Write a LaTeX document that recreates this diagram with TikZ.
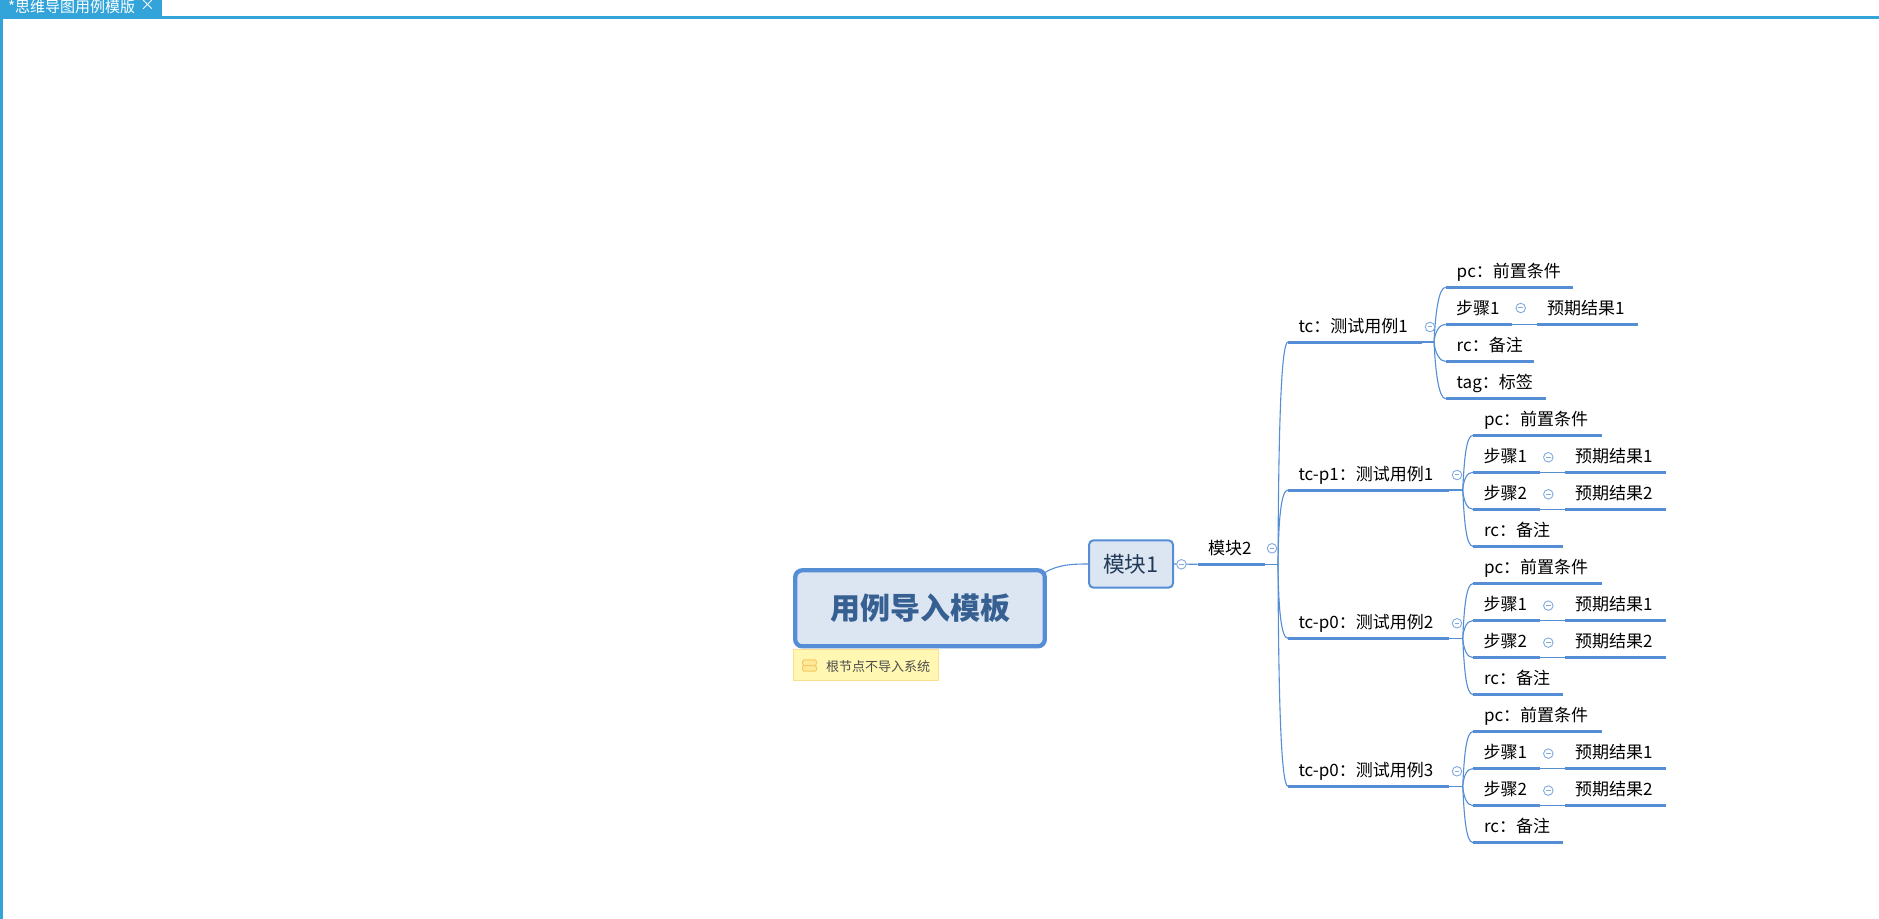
\documentclass[tikz,border=0pt]{standalone}
\usepackage{fontspec}
\setmainfont{Noto Sans CJK SC}
\definecolor{mline}{HTML}{558ED5}
\definecolor{mfill}{HTML}{DCE6F2}
\definecolor{mroot}{HTML}{376092}
\definecolor{mtab}{HTML}{32A4DA}
\definecolor{mnote}{HTML}{FFF7B2}
\definecolor{mnoteb}{HTML}{FBDF8C}
\definecolor{micon}{HTML}{F9C95F}
\newcommand{\topictext}[3]{\makebox[#1bp][l]{\hspace{#2bp}#3}}
\tikzset{
  x=1bp,y=-1bp,
  conn/.style={draw=mline,line width=1.1bp},
  uline/.style={draw=mline,line width=3bp},
  topic/.style={inner sep=0,outer sep=0,minimum height=30bp,text height=13bp,text depth=3bp,
    anchor=south west,font=\fontsize{17bp}{20bp}\selectfont,text=black,
    append after command={(\tikzlastnode.south west) edge[uline] (\tikzlastnode.south east)}},
  collapse/.style={circle,draw=mline!75,fill=white,line width=0.9bp,inner sep=0,outer sep=0,
    minimum size=9.5bp,font=\fontsize{4bp}{4bp}\selectfont},
  rootbox/.style={draw=mline,fill=mfill,line width=4.3bp,rounded corners=7bp,inner sep=0,outer sep=0,
    minimum width=249.6bp,minimum height=76bp,text=mroot,font=\fontsize{30bp}{34bp}\selectfont\bfseries},
  mainbox/.style={draw=mline,fill=mfill,line width=2bp,rounded corners=4.5bp,inner sep=0,outer sep=0,
    minimum width=84bp,minimum height=47.4bp,text=mroot!60!black,font=\fontsize{21.7bp}{25bp}\selectfont},
  notebox/.style={draw=mnoteb,fill=mnote,line width=1bp,inner sep=0,outer sep=0,anchor=north west,
    minimum width=144.5bp,minimum height=31bp},
  notetext/.style={inner sep=0,outer sep=0,anchor=west,text=black!70,font=\fontsize{13bp}{15bp}\selectfont},
  tabtext/.style={inner sep=0,outer sep=0,anchor=west,text=white,font=\fontsize{15bp}{16bp}\selectfont},
}
\newcommand{\minusmark}{\textcolor{mline!75}{\rule[0.3bp]{4.5bp}{0.8bp}}}
% one test case whose collapse markers and children share the tc-p layout
\newcommand{\casegroup}[3]{%
  \node[topic] (#1) at (1288,#2) {\topictext{161.3}{10.5}{#3}};
  \coordinate (#1j) at (1462.7,#2);
  \node[topic] (#1pc) at (1473,{#2-54.7}) {\topictext{128.7}{11}{pc：前置条件}};
  \node[topic] (#1sa) at (1473,{#2-17.7}) {\topictext{67}{10.5}{步骤1}};
  \node[topic] (#1ra) at (1565,{#2-17.7}) {\topictext{100.7}{10}{预期结果1}};
  \node[topic] (#1sb) at (1473,{#2+19.3}) {\topictext{67}{10.5}{步骤2}};
  \node[topic] (#1rb) at (1565,{#2+19.3}) {\topictext{100.7}{10}{预期结果2}};
  \node[topic] (#1rc) at (1473,{#2+56.3}) {\topictext{89.7}{11}{rc：备注}};
  \draw[conn] (#1.south east) -- (#1j);
  \draw[conn] (#1j) .. controls +(1.5,-30) and +(-7,0) .. (#1pc.south west);
  \draw[conn] (#1j) .. controls +(1,-11) and +(-6,0) .. (#1sa.south west);
  \draw[conn] (#1j) .. controls +(1,11) and +(-6,0) .. (#1sb.south west);
  \draw[conn] (#1j) .. controls +(1.5,30) and +(-7,0) .. (#1rc.south west);
  \draw[conn] (#1sa.south east) -- (#1ra.south west);
  \draw[conn] (#1sb.south east) -- (#1rb.south west);
  \draw[conn] (tr) .. controls +(0.5,{(#2-564.3)*0.6}) and +(-7,0) .. (#1.south west);
  \node[collapse] (#1c) at (1457,{#2-15}) {\minusmark};
  \node[collapse] (#1ca) at (1548.3,{#2-32.7}) {\minusmark};
  \node[collapse] (#1cb) at (1548.3,{#2+4.3}) {\minusmark};
}
\begin{document}
\begin{tikzpicture}
\useasboundingbox (0,0) rectangle (1879,919);
\fill[white] (0,0) rectangle (1879,919);
% editor tab
\fill[mtab] (0,0) rectangle (162,16);
\fill[mtab] (0,16) rectangle (1879,19);
\fill[mtab] (0,16) rectangle (2.5,919);
\node[tabtext] (tabname) at (8,7) {*思维导图用例模版};
\node[tabtext] (tabclose) at (140,5) {×};
% root and first level
\node[rootbox] (root) at (920,608.3) {用例导入模板};
\node[notebox] (note) at (793.5,649.8) {};
\draw[draw=micon,fill=mnote!70!micon,line width=1bp,rounded corners=1.5bp] (802.5,659.8) rectangle (816.5,665.5);
\draw[draw=micon,fill=mnote!70!micon,line width=1bp,rounded corners=1.5bp] (802.5,665.5) rectangle (816.5,671.2);
\node[notetext] (notelabel) at (826,666.7) {根节点不导入系统};
\node[mainbox] (m1) at (1131,564) {模块1};
\draw[conn] (root.16) .. controls +(14,-8) and +(-18,0) .. (m1.west);
\node[topic] (m2) at (1197.5,564.3) {\topictext{67.1}{10.5}{模块2}};
\coordinate (tr) at (1278,564.3);
\draw[conn] (m1.east) -- (m2.south west);
\draw[conn] (m2.south east) -- (tr);
\node[collapse] (m1c) at (1181.4,564.3) {\minusmark};
\node[collapse] (m2c) at (1272,548.3) {\minusmark};
% first test case
\node[topic] (t) at (1288,342) {\topictext{133.7}{10.5}{tc：测试用例1}};
\coordinate (tj) at (1434,342);
\node[topic] (tpc) at (1445.7,287.3) {\topictext{127.3}{11}{pc：前置条件}};
\node[topic] (tsa) at (1445.7,324.3) {\topictext{66.3}{10.5}{步骤1}};
\node[topic] (tra) at (1537,324.3) {\topictext{100.7}{10}{预期结果1}};
\node[topic] (trc) at (1445.7,361.5) {\topictext{88.3}{11}{rc：备注}};
\node[topic] (ttag) at (1445.7,398.7) {\topictext{100}{11}{tag：标签}};
\draw[conn] (t.south east) -- (tj);
\draw[conn] (tj) .. controls +(1.5,-30) and +(-7,0) .. (tpc.south west);
\draw[conn] (tj) .. controls +(1,-11) and +(-6,0) .. (tsa.south west);
\draw[conn] (tj) .. controls +(1,11) and +(-6,0) .. (trc.south west);
\draw[conn] (tj) .. controls +(1.5,30) and +(-7,0) .. (ttag.south west);
\draw[conn] (tsa.south east) -- (tra.south west);
\draw[conn] (tr) .. controls +(0.5,-133) and +(-7,0) .. (t.south west);
\node[collapse] (tc) at (1430,327) {\minusmark};
\node[collapse] (tca) at (1520.7,308) {\minusmark};
% remaining test cases
\casegroup{pa}{490}{tc-p1：测试用例1}
\casegroup{pb}{638.3}{tc-p0：测试用例2}
\casegroup{pc}{786.3}{tc-p0：测试用例3}
\end{tikzpicture}
\end{document}
